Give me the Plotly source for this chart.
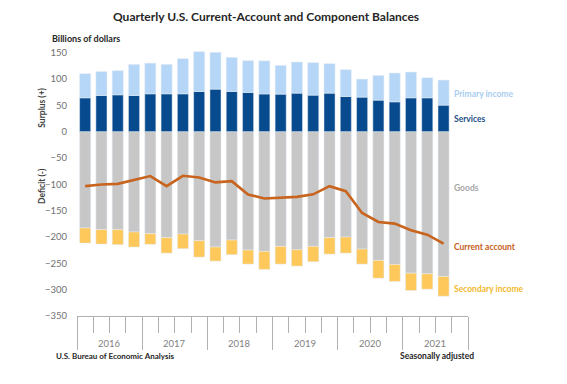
import plotly.graph_objects as go

quarters = [f"{y} Q{q}" for y in range(2016, 2022) for q in range(1, 5)][:23]
years = ["2016", "2017", "2018", "2019", "2020", "2021"]

services = [64.2, 68.6, 69.9, 68.6, 71.8, 71.8, 71.8, 76.2, 80.7, 76.2, 74.3, 71.5,
            71.2, 73.1, 69.3, 73.1, 66.7, 65.5, 59.8, 56.6, 64.2, 64.2, 50.3]
primary_income = [45.8, 45.4, 45.8, 59.1, 58.2, 55.9, 66.7, 75.7, 69.9, 64.8, 60.4, 63.0,
                  54.6, 59.1, 61.7, 55.9, 50.9, 34.3, 46.9, 54.7, 49.0, 38.1, 47.6]
goods = [-182.9, -186.0, -186.0, -190.5, -193.6, -201.2, -194.3, -207.0, -219.0, -205.8, -224.8, -227.3,
         -217.8, -224.1, -217.8, -201.2, -200.0, -222.9, -244.5, -252.1, -268.7, -269.8, -275.0]
secondary_income = [-28.6, -27.4, -28.6, -28.6, -20.4, -29.4, -27.9, -31.2, -26.8, -27.8, -26.7, -34.3,
                    -33.7, -31.2, -29.2, -31.3, -30.6, -28.6, -33.7, -32.4, -32.9, -29.3, -37.5]
current_account = [-103.5, -100.3, -99.1, -92.0, -84.4, -103.5, -83.8, -86.9, -96.4, -94.0, -119.3, -127.0,
                   -125.7, -123.8, -119.0, -103.5, -113.0, -154.3, -171.5, -174.6, -187.3, -195.5, -212.7]

y_ticks = [150, 100, 50, 0, -50, -100, -150, -200, -250, -300, -350]

W, H = 567, 384
L, R, T, B = 77, 468, 50.4, 315.7
FONT = "Lato"

x = list(range(len(quarters)))

C_PRIM = "#b5d6f6"
C_SERV = "#074a8e"
C_GOODS = "#c7c7c7"
C_SEC = "#fec85a"
C_CA = "#c8641e"

fig = go.Figure()
fig.add_bar(x=x, y=goods, name="Goods", marker_color=C_GOODS, customdata=quarters)
fig.add_bar(x=x, y=services, name="Services", marker_color=C_SERV, customdata=quarters)
fig.add_bar(x=x, y=primary_income, name="Primary income", marker_color=C_PRIM, customdata=quarters)
fig.add_bar(x=x, y=secondary_income, name="Secondary income", marker_color=C_SEC, customdata=quarters)
fig.add_scatter(x=x, y=current_account, mode="lines", name="Current account",
                line=dict(color=C_CA, width=2.6), customdata=quarters)

boundaries = [i - 0.5 for i in range(len(years) * 4 + 1)]
year_bounds = boundaries[::4]

def px(xp):
    return (xp - L) / (R - L)

def py(yp):
    return (B - yp) / (B - T)

ann = []
def text(t, xp, yp, size, color, bold=False, xanchor="left", yanchor="middle", angle=0):
    ann.append(dict(text=f"<b>{t}</b>" if bold else t, x=px(xp), y=py(yp), xref="paper", yref="paper",
                    xanchor=xanchor, yanchor=yanchor, showarrow=False, textangle=angle,
                    font=dict(family=FONT, size=size, color=color)))

text("Quarterly U.S. Current-Account and Component Balances", 266, 17, 12, "#262626", True, "center")
text("Billions of dollars", 50, 39, 9, "#262626", True)
text("Surplus (+)", 42, 108, 8.5, "#404040", True, "center", angle=-90)
text("Deficit (-)", 42, 186, 8.5, "#404040", True, "center", angle=-90)
text("U.S. Bureau of Economic Analysis", 54, 356, 8, "#262626", True)
text("Seasonally adjusted", 476, 356, 8.5, "#262626", True, "right")

text("Primary income", 452, 94.5, 8.5, "#a9cdf1", True)
text("Services", 452, 119.5, 8.5, "#1c4f86", True)
text("Goods", 452, 188, 8.5, "#a6a6a6", True)
text("Current account", 452, 246.5, 8.5, "#c5601b", True)
text("Secondary income", 452, 288.5, 8.5, "#f2b92e", True)

for i, yr in enumerate(years):
    xc = (year_bounds[i] + year_bounds[i + 1]) / 2
    ann.append(dict(text=yr, x=xc, y=0, xref="x", yref="paper", yshift=-27, xanchor="center",
                    yanchor="middle", showarrow=False, font=dict(family=FONT, size=9.5, color="#7f7f7f")))

fig.update_layout(
    width=W, height=H,
    margin=dict(l=L, r=W - R, t=T, b=H - B, pad=0),
    barmode="relative", bargap=0.32,
    plot_bgcolor="white", paper_bgcolor="white",
    showlegend=False,
    annotations=ann,
    font=dict(family=FONT, size=9.5, color="#7f7f7f"),
    xaxis=dict(range=[-0.5, len(years) * 4 - 0.5], showgrid=False, zeroline=False,
               showline=True, linecolor="#b0b0b0", linewidth=1,
               tickmode="array", tickvals=year_bounds, ticks="outside", ticklen=33,
               tickcolor="#b0b0b0", tickwidth=1, showticklabels=False,
               minor=dict(tickmode="array", tickvals=boundaries, ticks="outside", ticklen=16,
                          tickcolor="#b0b0b0", tickwidth=1)),
    yaxis=dict(range=[-350, 155], showgrid=False, zeroline=False, showline=False,
               tickmode="array", tickvals=y_ticks, ticks="", ticklabelstandoff=9,
               tickfont=dict(family=FONT, size=9.5, color="#6f6f6f")),
)

fig.write_html("out.html", config={"displayModeBar": False},
               post_script="document.body.style.margin='0';")
